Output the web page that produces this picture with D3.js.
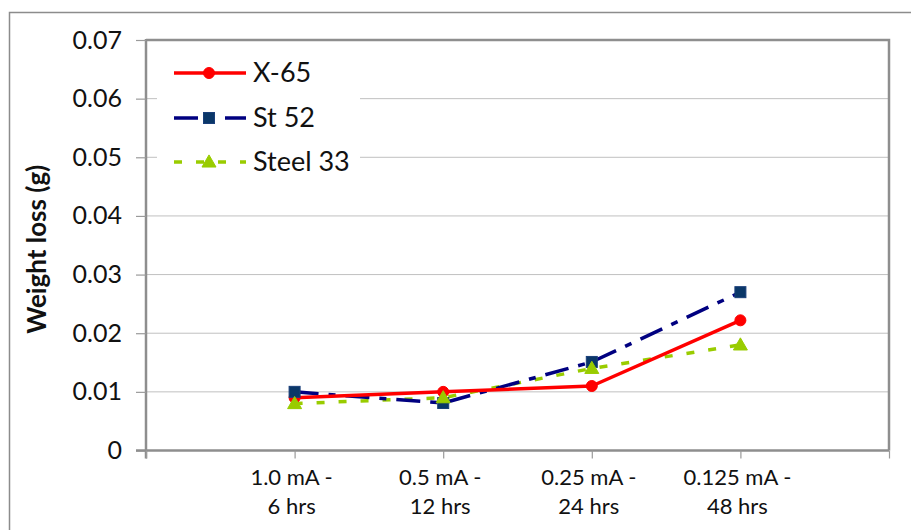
<!DOCTYPE html>
<html>
<head>
<meta charset="utf-8">
<script src="https://cdn.jsdelivr.net/npm/d3@7"></script>
<style>
  html, body { margin: 0; padding: 0; background: #fff; }
  svg { display: block; font-family: Lato, "Liberation Sans", sans-serif; }
</style>
</head>
<body>
<svg id="chart" width="911" height="530"></svg>
<script>
// Test conditions (current density - duration)
const categories = ["1.0 mA - 6 hrs", "0.5 mA - 12 hrs", "0.25 mA - 24 hrs", "0.125 mA - 48 hrs"];
const categoryLines = [["1.0 mA -", "6 hrs"], ["0.5 mA -", "12 hrs"], ["0.25 mA -", "24 hrs"], ["0.125 mA -", "48 hrs"]];

// Weight loss in grams for each steel grade
const seriesNames = ["X-65", "St 52", "Steel 33"];
const x65 = [0.009, 0.010, 0.011, 0.0222];
const st52 = [0.010, 0.0081, 0.0151, 0.027];
const steel33 = [0.008, 0.009, 0.014, 0.018];

const yTicks = [0, 0.01, 0.02, 0.03, 0.04, 0.05, 0.06, 0.07];
const yTickLabels = ["0", "0.01", "0.02", "0.03", "0.04", "0.05", "0.06", "0.07"];

const svg = d3.select("#chart");
const plot = { left: 146, right: 889, top: 40, bottom: 450.5 };

// Categories sit on tick marks, with an empty slot at each end of the axis
const xDomain = ["__start", ...categories, "__end"];
const x = d3.scalePoint().domain(xDomain).range([plot.left, plot.right]).padding(0);
const y = d3.scaleLinear().domain([0, 0.07]).range([plot.bottom, plot.top]);

// Outer chart frame
svg.append("rect")
  .attr("x", 9.5).attr("y", 12.5).attr("width", 1000).attr("height", 1000)
  .attr("fill", "none").attr("stroke", "#8c8c8c").attr("stroke-width", 1.5);

// Horizontal gridlines
svg.append("g")
  .selectAll("line")
  .data(yTicks.filter(v => v > 0 && v < 0.07))
  .join("line")
  .attr("x1", plot.left).attr("x2", plot.right)
  .attr("y1", d => y(d)).attr("y2", d => y(d))
  .attr("stroke", "#c0c0c0").attr("stroke-width", 1);

// Plot area border (top and right)
svg.append("path")
  .attr("d", `M${plot.left},${plot.top}H${plot.right}V${plot.bottom}`)
  .attr("fill", "none").attr("stroke", "#8e8e8e").attr("stroke-width", 2.5);

// Y axis
const yAxis = svg.append("g")
  .attr("transform", `translate(${plot.left},0)`)
  .call(d3.axisLeft(y).tickValues(yTicks).tickSize(10).tickPadding(14)
    .tickFormat((d, i) => yTickLabels[i]));
yAxis.select(".domain").attr("stroke", "#8e8e8e").attr("stroke-width", 2.5)
  .attr("d", `M0,${plot.top - 1}V${plot.bottom + 8}`);
yAxis.selectAll(".tick line").attr("stroke", "#9a9a9a").attr("stroke-width", 1.2);
yAxis.selectAll(".tick text").attr("font-size", 25).attr("fill", "#111")
  .attr("font-family", "Lato, sans-serif");

// X axis
const xAxis = svg.append("g")
  .attr("transform", `translate(0,${plot.bottom})`)
  .call(d3.axisBottom(x).tickSize(8).tickFormat(() => ""));
xAxis.select(".domain").attr("stroke", "#8e8e8e").attr("stroke-width", 2.5)
  .attr("d", `M${plot.left - 10},0H${plot.right}`);
xAxis.selectAll(".tick line").attr("stroke", "#9a9a9a").attr("stroke-width", 1.2);
xAxis.selectAll(".tick text").remove();

// Two-line category labels
const catLabels = svg.append("g")
  .selectAll("text")
  .data(categories)
  .join("text")
  .attr("x", d => x(d) - 3)
  .attr("y", 485)
  .attr("text-anchor", "middle")
  .attr("font-size", 22)
  .attr("fill", "#111");
catLabels.each(function(d, i) {
  const t = d3.select(this);
  categoryLines[i].forEach((line, j) => {
    t.append("tspan").attr("x", x(d) - 3).attr("dy", j === 0 ? 0 : 29).text(line);
  });
});

// Y axis title
svg.append("text")
  .attr("transform", `translate(46,${(plot.top + plot.bottom) / 2 + 4}) rotate(-90)`)
  .attr("text-anchor", "middle")
  .attr("font-size", 26).attr("font-weight", "bold").attr("fill", "#111")
  .text("Weight loss (g)");

// Series styling
const series = [
  { name: seriesNames[0], values: x65, color: "#ff0000", dash: null, width: 3.5, marker: "circle" },
  { name: seriesNames[1], values: st52, color: "#000080", dash: "24 10 7 10", width: 3.5, marker: "square" },
  { name: seriesNames[2], values: steel33, color: "#99cc00", dash: "8 14", width: 3.5, marker: "triangle" }
];

const line = d3.line().x((d, i) => x(categories[i])).y(d => y(d));

function drawMarker(g, type, cx, cy) {
  if (type === "circle") {
    g.append("circle").attr("cx", cx).attr("cy", cy).attr("r", 5.5)
      .attr("fill", "#ff0000").attr("stroke", "#ff0000").attr("stroke-width", 1);
  } else if (type === "square") {
    g.append("rect").attr("x", cx - 5.5).attr("y", cy - 5.5).attr("width", 11).attr("height", 11)
      .attr("fill", "#0a3768").attr("stroke", "#1a3f7a").attr("stroke-width", 1);
  } else {
    g.append("path")
      .attr("d", d3.symbol().type(d3.symbolTriangle).size(85)())
      .attr("transform", `translate(${cx},${cy + 1})`)
      .attr("fill", "#99cc00").attr("stroke", "#99cc00").attr("stroke-width", 1);
  }
}

// Lines drawn first (in reverse so the red line sits on top), markers after
const lineLayer = svg.append("g");
[...series].reverse().forEach(s => {
  lineLayer.append("path")
    .attr("d", line(s.values))
    .attr("fill", "none")
    .attr("stroke", s.color)
    .attr("stroke-width", s.width)
    .attr("stroke-dasharray", s.dash)
    .attr("stroke-linejoin", "round");
});
const markerLayer = svg.append("g");
series.forEach(s => {
  s.values.forEach((v, i) => drawMarker(markerLayer, s.marker, x(categories[i]), y(v)));
});

// Legend
const legend = svg.append("g");
legend.append("rect")
  .attr("x", 157).attr("y", 48).attr("width", 203).attr("height", 140)
  .attr("fill", "#fff");
const legendY = [73, 118, 162];
series.forEach((s, i) => {
  const ly = legendY[i];
  legend.append("line")
    .attr("x1", 174).attr("x2", 246).attr("y1", ly).attr("y2", ly)
    .attr("stroke", s.color).attr("stroke-width", s.width)
    .attr("stroke-dasharray", s.dash);
  drawMarker(legend, s.marker, 209, ly);
  legend.append("text")
    .attr("x", 253).attr("y", ly + 9)
    .attr("font-size", 27).attr("fill", "#111")
    .text(s.name);
});
</script>
</body>
</html>
